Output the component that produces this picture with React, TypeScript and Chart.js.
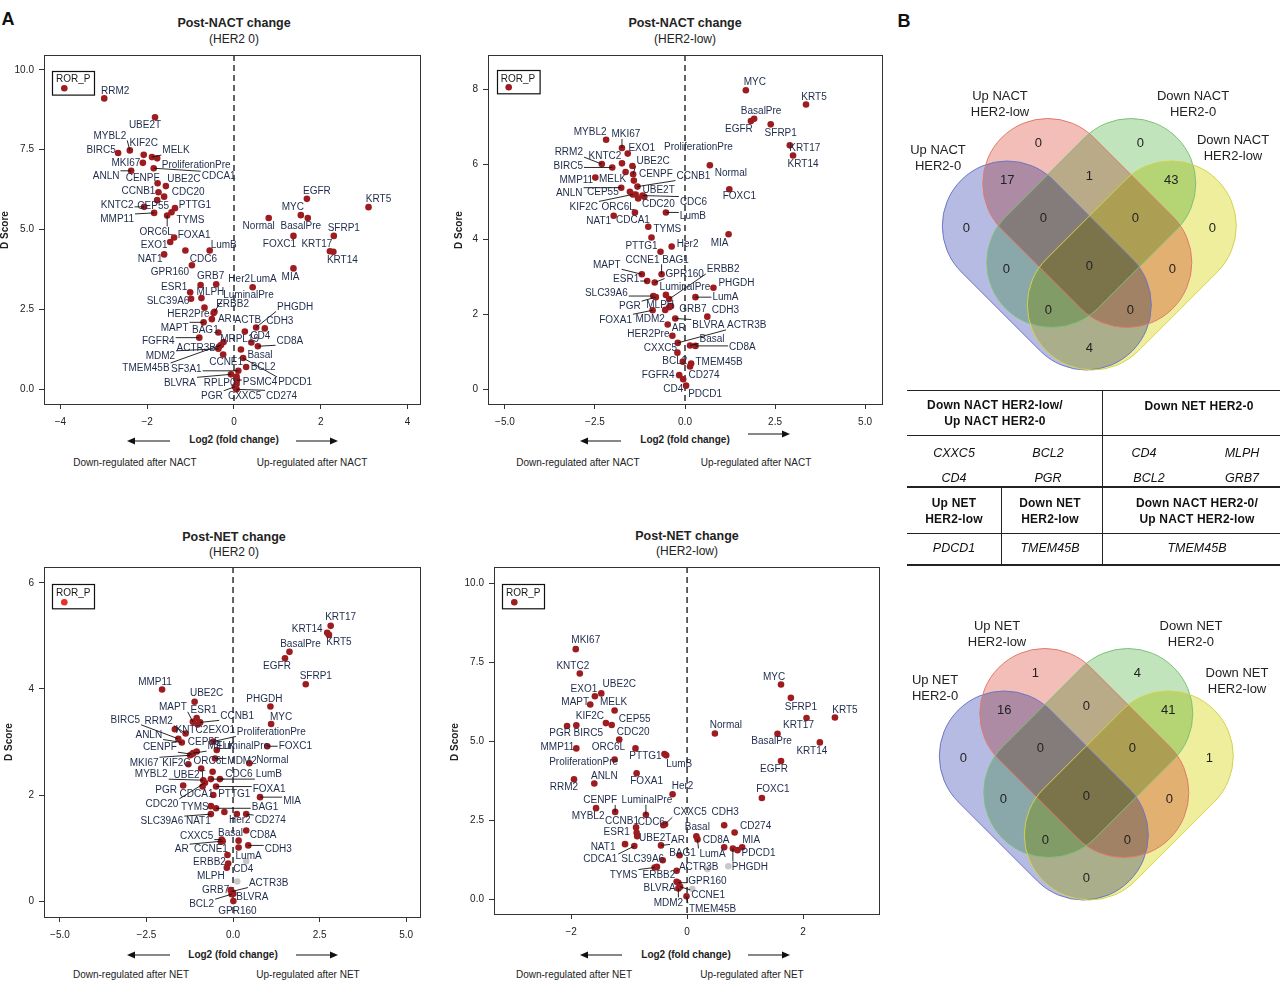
import React, { useEffect, useRef } from "react";
import { Chart, registerables } from "chart.js";
Chart.register(...registerables);

const FONT = '"Liberation Sans", Arial, Helvetica, sans-serif';
const RED = "#9d1c20";
const LABEL = "#1e2b4a";

// ---------------- Post-NACT change, HER2 0 ----------------
const nactH0Genes = [
  "RRM2","UBE2T","MYBL2","BIRC5","KIF2C","MELK","ProliferationPre","MKI67","CDCA1","ANLN",
  "CENPF","UBE2C","CCNB1","CDC20","CEP55","KNTC2","PTTG1","TYMS","MMP11","ORC6L",
  "EGFR","KRT5","MYC","BasalPre","Normal","SFRP1","FOXA1","EXO1","NAT1","CDC6",
  "LumB","GPR160","FOXC1","KRT17","KRT14","MIA","GRB7","Her2","LumA","ESR1",
  "MLPH","SLC39A6","HER2Pre","LuminalPre","ERBB2","AR","MAPT","BAG1","FGFR4","MRPL19",
  "ACTR3B","MDM2","TMEM45B","CCNE1","ACTB","PHGDH","CDH3","CD4","CD8A","Basal",
  "PDCD1","BCL2","SF3A1","BLVRA","RPLP0","PSMC4","CXXC5","PGR","CD274",
];
const nactH0Fold = [
  -2.99,-1.82,-2.40,-2.67,-2.08,-1.89,-1.77,-2.10,-1.85,-2.37,
  -1.76,-1.57,-1.74,-1.61,-1.77,-2.07,-1.36,-1.44,-1.84,-1.54,
  1.68,3.10,1.54,1.70,0.80,2.30,-1.38,-1.47,-1.61,-1.12,
  -0.56,-0.97,1.37,2.21,2.29,1.37,-0.77,-0.41,0.43,-1.01,
  -0.75,-0.99,-0.68,-0.45,-0.47,-0.51,-0.70,-0.36,-0.80,-0.24,
  -0.34,-0.36,-0.30,-0.25,0.25,0.51,0.71,0.40,0.55,0.16,
  0.21,0.28,0.10,-0.07,0.06,0.07,0.06,0.02,0.06,
];
const nactH0DScore = [
  9.11,8.52,7.48,7.40,7.34,7.27,7.23,7.09,6.92,6.84,
  6.45,6.36,6.17,6.03,5.92,5.71,5.67,5.54,5.52,5.44,
  5.96,5.70,5.45,5.36,5.36,4.80,4.75,4.61,4.22,4.34,
  4.34,3.88,4.80,4.32,4.30,3.78,3.26,3.28,3.19,3.03,
  2.85,2.83,2.55,2.42,2.38,2.19,2.09,1.77,1.61,1.47,
  1.33,1.26,1.38,1.08,1.80,1.93,1.90,1.46,1.34,1.24,
  0.97,0.69,0.57,0.46,0.39,0.28,0.16,0.07,-0.01,
];

// ---------------- Post-NACT change, HER2-low ----------------
const nactLowGenes = [
  "MYC","KRT5","BasalPre","EGFR","SFRP1","KRT17","KRT14","Normal","FOXC1","MYBL2",
  "MKI67","EXO1","RRM2","KNTC2","BIRC5","ProliferationPre","MMP11","MELK","UBE2C","CENPF",
  "CCNB1","ANLN","CEP55","UBE2T","KIF2C","ORC6L","CDC20","CDC6","LumB","NAT1",
  "CDCA1","TYMS","MIA","PTTG1","Her2","CCNE1","BAG1","MAPT","ESR1","GPR160",
  "ERBB2","LuminalPre","PHGDH","LumA","SLC39A6","PGR","MLPH","GRB7","FOXA1","MDM2",
  "CDH3","BLVRA","AR","HER2Pre","ACTR3B","Basal","CD8A","CXXC5","BCL2","TMEM45B",
  "CD274","FGFR4","CD4","PDCD1",
];
const nactLowFold = [
  1.69,3.36,1.92,1.83,2.38,2.91,3.00,0.69,1.23,-2.19,
  -1.75,-1.59,-2.31,-1.75,-2.02,-1.46,-2.49,-1.65,-1.44,-1.42,
  -1.32,-1.77,-1.53,-1.37,-1.45,-1.30,-1.13,-1.18,-0.53,-1.98,
  -1.39,-1.02,1.21,-0.93,-0.37,-0.68,-0.65,-1.20,-1.05,-0.84,
  -0.44,-0.53,0.79,0.29,-0.88,-0.81,-0.44,-0.39,-0.90,-0.55,
  0.62,-0.27,-0.48,-0.35,-0.20,0.14,0.29,-0.21,-0.06,0.17,
  0.14,-0.16,-0.05,0.03,
];
const nactLowDScore = [
  7.97,7.59,7.21,7.15,7.06,6.50,6.23,5.97,5.33,6.65,
  6.43,6.28,6.00,6.02,5.91,5.95,5.64,5.79,5.73,5.56,
  5.40,5.37,5.26,5.19,5.19,5.08,5.13,5.16,4.71,4.62,
  4.71,4.33,4.13,4.04,3.80,3.66,3.06,3.06,2.88,2.84,
  2.40,2.51,2.70,2.45,2.48,2.45,2.18,2.21,2.10,2.11,
  1.93,1.88,1.72,1.42,1.23,1.16,1.15,0.97,0.73,0.68,
  0.60,0.37,0.26,0.09,
];

// ---------------- Post-NET change, HER2 0 ----------------
const netH0Genes = [
  "KRT17","KRT14","KRT5","BasalPre","EGFR","SFRP1","MMP11","UBE2C","PHGDH","MYC",
  "MAPT","ESR1","CCNB1","EXO1","RRM2","KNTC2","BIRC5","ANLN","ProliferationPre","FOXC1",
  "LuminalPre","MELK","CEP55","CENPF","MKI67","KIF2C","ORC6L","MDM2","Normal","UBE2T",
  "MYBL2","CDC6","LumB","PGR","CDC20","FOXA1","CDCA1","PTTG1","MIA","TYMS",
  "BAG1","SLC39A6","NAT1","Her2","CD274","CD8A","Basal","CXXC5","CCNE1","AR",
  "CDH3","LumA","ERBB2","CD4","MLPH","ACTR3B","GRB7","BLVRA","BCL2","GPR160",
];
const netH0Fold = [
  2.82,2.72,2.77,1.63,1.50,2.10,-2.05,-1.11,1.08,1.10,
  -1.16,-1.05,-0.95,-1.02,-1.37,-1.68,-1.58,-1.48,-0.57,0.99,
  -0.47,-1.15,-1.05,-1.19,-1.24,-1.29,-0.92,-0.52,0.47,-0.59,
  -0.86,-0.38,-0.64,-1.44,-0.81,-0.49,-0.88,-0.57,0.78,-0.64,
  -0.49,-0.64,-0.25,0.11,0.38,0.38,0.16,-0.33,-0.35,-0.30,
  0.44,0.16,-0.16,-0.14,-0.18,-0.04,-0.07,0.01,-0.04,0.01,
];
const netH0DScore = [
  5.19,5.06,5.02,4.70,4.58,4.09,3.99,3.76,3.67,3.34,
  3.38,3.45,3.37,3.33,3.16,3.24,3.06,2.99,3.01,2.92,
  2.85,2.79,2.82,2.77,2.75,2.58,2.50,2.69,2.60,2.44,
  2.28,2.30,2.30,2.18,2.23,2.16,2.16,2.00,1.96,1.79,
  1.75,1.64,1.68,1.64,1.64,1.33,1.14,1.16,1.12,1.13,
  1.05,1.01,0.87,0.71,0.63,0.18,0.21,0.14,0.13,0.00,
];
const netH0GreyFold = [0.38, 0.12];
const netH0GreyDScore = [0.75, 0.37];

// ---------------- Post-NET change, HER2-low ----------------
const netLowGenes = [
  "MKI67","KNTC2","EXO1","UBE2C","MAPT","MELK","KIF2C","CEP55","PGR","BIRC5",
  "CDC20","MYC","SFRP1","KRT5","KRT17","Normal","BasalPre","KRT14","MMP11","ORC6L",
  "PTTG1","LumB","ProliferationPre","RRM2","ANLN","FOXA1","Her2","EGFR","FOXC1","MYBL2",
  "CENPF","LuminalPre","CCNB1","CDC6","CXXC5","ESR1","UBE2T","AR","NAT1","CDCA1",
  "SLC39A6","BAG1","Basal","LumA","CD8A","CDH3","CD274","MIA","PDCD1","PHGDH",
  "TYMS","ERBB2","ACTR3B","GPR160","BLVRA","CCNE1","MDM2","TMEM45B",
];
const netLowFold = [
  -1.92,-1.85,-1.59,-1.48,-1.67,-1.25,-1.40,-1.30,-2.07,-1.91,
  -1.17,1.62,1.79,2.55,2.06,0.48,1.56,2.29,-1.91,-0.89,
  -0.39,-0.36,-1.25,-1.95,-1.60,-0.87,-0.25,1.62,1.29,-1.57,
  -1.24,-0.71,-0.88,-0.41,-0.38,-0.87,-0.86,-0.45,-1.07,-0.91,
  -0.42,-0.13,0.16,0.18,0.64,0.64,0.82,0.95,0.87,0.79,
  -0.56,-0.52,-0.18,-0.15,-0.18,-0.12,-0.15,-0.01,
];
const netLowDScore = [
  7.91,7.14,6.42,6.51,6.16,5.97,5.57,5.51,5.48,5.50,
  5.05,6.79,6.37,5.75,5.73,5.24,5.23,4.96,4.77,4.77,
  4.59,4.55,4.42,3.79,3.66,3.98,3.32,4.37,3.20,2.88,
  2.76,2.67,2.27,2.34,2.37,2.10,1.99,1.70,1.74,1.68,
  1.23,1.39,1.99,1.89,1.64,2.34,2.11,1.64,1.55,1.60,
  1.00,1.02,0.90,0.52,0.55,0.39,0.34,0.09,
];
const netLowGreyFold = [0.71, 0.35, 0.09];
const netLowGreyDScore = [1.04, 0.95, 0.32];

// ---------------- Venn counts ----------------
const vennRegions = ["B","R","G","Y","BR","RG","GY","BRG","RGY","BRGY","BG","RY","BGY","BRY","BY"];
const nactVennCounts = [0,0,0,0,17,1,43,0,0,0,0,0,0,0,4];
const netVennCounts = [0,1,4,1,16,0,41,0,0,0,0,0,0,0,0];

// ---------------- label layout (pixel offsets of labels from points; 1 = leader line) ----------------
const nactH0Labels: Record<string, number[]> = {
  RRM2:[11,-8], UBE2T:[-10,8], MYBL2:[-20,-15,1], BIRC5:[-17,-3], KIF2C:[0,-12.5], MELK:[24,-7,1],
  ProliferationPre:[39,6], MKI67:[-17,0], CDCA1:[65,8,1], ANLN:[-25,5,1], CENPF:[-15,-5], UBE2C:[18,-7],
  CCNB1:[-20,-1], CDC20:[24,-5], CEP55:[-4,5.5], KNTC2:[-27,-2,1], PTTG1:[20,-3], TYMS:[19,7],
  MMP11:[-37,6,1], ORC6L:[-11,16,1], EGFR:[10,-8], KRT5:[10,-8], MYC:[-8,-8], BasalPre:[-7,8],
  Normal:[-10,8], SFRP1:[10,-8], FOXA1:[20,-3], EXO1:[-16,3], NAT1:[-14,4], CDC6:[18,8], LumB:[14,-6],
  GPR160:[-22,7], FOXC1:[-14,8], KRT17:[-13,-7], KRT14:[9,8], MIA:[-3,8], GRB7:[10,-9], Her2:[23,-6],
  LumA:[11,-8], ESR1:[-16,-6], MLPH:[9,-6], SLC39A6:[-23,2], HER2Pre:[-16,6], LuminalPre:[34,-17,1],
  ERBB2:[19,-9], AR:[13,0], MAPT:[-29,5,1], BAG1:[-13,-3], FGFR4:[-41,3,1], MRPL19:[16,-3],
  ACTR3B:[-23,1,1], MDM2:[-58,7,1], TMEM45B:[-75,23,1], CCNE1:[3,7], ACTB:[3,-12], PHGDH:[39,-21,1],
  CDH3:[15,-8], CD4:[9,-7], CD8A:[32,-6,1], Basal:[19,5], PDCD1:[52,24,1], BCL2:[17,0],
  SF3A1:[-52,-2,1], BLVRA:[-51,8,1], RPLP0:[-17,6], PSMC4:[23,2,1], CXXC5:[8,12], PGR:[-23,9,1],
  CD274:[45,6,1],
};
const nactLowLabels: Record<string, number[]> = {
  MYC:[9,-8], KRT5:[8,-8], BasalPre:[7,-8], EGFR:[-12,8], SFRP1:[10,8], KRT17:[15,2], KRT14:[10,8],
  Normal:[21,8], FOXC1:[10,7], MYBL2:[-16,-8], MKI67:[4,-14,1], EXO1:[14,-6], RRM2:[-33,-12,1],
  KNTC2:[-17,-8], BIRC5:[-44,-2,1], ProliferationPre:[66,-19], MMP11:[-19,2], MELK:[-13,7],
  UBE2C:[20,-13,1], CENPF:[22,-7], CCNB1:[56,-11,1], ANLN:[-52,5,1], CEP55:[-27,0], UBE2T:[23,-5],
  KIF2C:[-49,12,1], ORC6L:[-20,8], CDC20:[14,7], CDC6:[51,6,1], LumB:[27,3,1], NAT1:[-15,5],
  CDCA1:[-2,7], TYMS:[19,2], MIA:[-9,9], PTTG1:[-10,8], Her2:[16,-3], CCNE1:[-18,8], BAG1:[14,-15,1],
  MAPT:[-35,-10,1], ESR1:[-21,-2,1], GPR160:[30,-9,1], ERBB2:[54,-30,1], LuminalPre:[19,-8],
  PHGDH:[23,-5], LumA:[30,0,1], SLC39A6:[-47,-3,1], PGR:[-26,9,1], MLPH:[-9,-3], GRB7:[22,3],
  FOXA1:[-37,9,1], MDM2:[-15,9], CDH3:[18,-7], BLVRA:[33,6,1], AR:[11,3], HER2Pre:[-24,-2],
  ACTR3B:[69,-18,1], Basal:[22,-7,1], CD8A:[47,1,1], CXXC5:[-17,-5], BCL2:[-8,-1], TMEM45B:[28,-2],
  CD274:[14,8], FGFR4:[-21,0], CD4:[-10,9], PDCD1:[19,8],
};
const netH0Labels: Record<string, number[]> = {
  KRT17:[10,-9], KRT14:[-20,-4], KRT5:[10,7], BasalPre:[11,-8], EGFR:[-8,8], SFRP1:[10,-8],
  MMP11:[-7,-8], UBE2C:[12,-9], PHGDH:[-6,-8], MYC:[10,-7], MAPT:[-20,-15,1], ESR1:[7,-8],
  CCNB1:[37,-7,1], EXO1:[24,5], RRM2:[-27,-13,1], KNTC2:[17,0], BIRC5:[-53,-19,1], ANLN:[-33,-8,1],
  ProliferationPre:[58,-10,1], FOXC1:[28,0,1], LuminalPre:[27,-4,1], MELK:[28,-7,1], CEP55:[7,-10],
  CENPF:[-32,-7,1], MKI67:[-46,7,1], KIF2C:[-12,-2], ORC6L:[9,-8], MDM2:[27,2,1], Normal:[23,-3],
  UBE2T:[-23,3], MYBL2:[-52,-6,1], CDC6:[19,-5,1], LumB:[58,-5,1], PGR:[-17,4], CDC20:[-43,21,1],
  FOXA1:[53,2,1], CDCA1:[-6,7], PTTG1:[21,-1], MIA:[32,4,1], TYMS:[-16,1], BAG1:[49,-2,1],
  SLC39A6:[-49,7,1], NAT1:[-26,9], Her2:[3,6], CD274:[24,6,1], CD8A:[17,4], Basal:[-8,-8],
  CXXC5:[-25,-4,1], CCNE1:[-10,7], AR:[-41,8,1], CDH3:[30,3,1], LumA:[10,8], ERBB2:[-18,7],
  CD4:[15,5], MLPH:[-16,8], ACTR3B:[37,-9,1], GRB7:[-15,0], BLVRA:[19,3], BCL2:[-30,10,1], GPR160:[4,10],
};
const netLowLabels: Record<string, number[]> = {
  MKI67:[10,-9], KNTC2:[-7,-8], EXO1:[-11,-8], UBE2C:[18,-10], MAPT:[-15,-3], MELK:[-1,-9],
  KIF2C:[-16,-7], CEP55:[23,-6], PGR:[-7,7], BIRC5:[12,7], CDC20:[14,-8], MYC:[-7,-8], SFRP1:[10,9],
  KRT5:[10,-8], KRT17:[-8,7], Normal:[11,-9], BasalPre:[-6,7], KRT14:[-8,8], MMP11:[-19,-2],
  ORC6L:[-27,-2], PTTG1:[-19,2], LumB:[13,8], ProliferationPre:[-31,2], RRM2:[-10,7], ANLN:[10,-8],
  FOXA1:[10,7], Her2:[10,-8], EGFR:[-7,8], FOXC1:[11,-9], MYBL2:[-8,8], CENPF:[-15,-12,1],
  LuminalPre:[1,-15,1], CCNB1:[-14,-7], CDC6:[-12,-3], CXXC5:[25,-12,1], ESR1:[-20,-1], UBE2T:[18,1],
  AR:[17,-6,1], NAT1:[-22,3], CDCA1:[-34,13,1], SLC39A6:[-20,-2], BAG1:[3,-2], Basal:[1,-10],
  LumA:[15,14,1], CD8A:[-8,-8], CDH3:[1,-13], CD274:[21,-7], MIA:[9,-8], PDCD1:[21,3], PHGDH:[17,18,1],
  TYMS:[-31,7,1], ERBB2:[2,8], ACTR3B:[22,-4,1], GPR160:[29,-2,1], BLVRA:[-17,6], CCNE1:[28,8,1],
  MDM2:[-10,14,1], TMEM45B:[26,12,1],
};

const minus = (s: string) => s.replace("-", "\u2212");
const fmtInt = (v: number) => minus(String(v));
const fmt1 = (v: number) => minus(v.toFixed(1));

type PanelCfg = {
  id: string;
  genes: string[]; xs: number[]; ys: number[];
  gx?: number[]; gy?: number[];
  labels: Record<string, number[]>;
  frame: number[];
  xr: number[]; yr: number[];
  xTicks: number[]; yTicks: number[];
  xFmt: (v: number) => string; yFmt: (v: number) => string;
  legend: number[]; legendDot: string;
};

const panels: PanelCfg[] = [
  { id: "p1", genes: nactH0Genes, xs: nactH0Fold, ys: nactH0DScore, labels: nactH0Labels,
    frame: [44, 55, 420, 404], xr: [-4.378, 4.286], yr: [-0.47, 10.47],
    xTicks: [-4, -2, 0, 2, 4], yTicks: [0, 2.5, 5, 7.5, 10], xFmt: fmtInt, yFmt: fmt1,
    legend: [52.3, 70.7, 42, 23.6], legendDot: RED },
  { id: "p2", genes: nactLowGenes, xs: nactLowFold, ys: nactLowDScore, labels: nactLowLabels,
    frame: [488, 55, 882, 404], xr: [-5.47, 5.47], yr: [-0.4, 8.91],
    xTicks: [-5, -2.5, 0, 2.5, 5], yTicks: [0, 2, 4, 6, 8], xFmt: fmt1, yFmt: fmtInt,
    legend: [496.7, 70, 42.6, 23.3], legendDot: RED },
  { id: "p3", genes: netH0Genes, xs: netH0Fold, ys: netH0DScore, gx: netH0GreyFold, gy: netH0GreyDScore,
    labels: netH0Labels, frame: [44, 567, 420, 917], xr: [-5.46, 5.40], yr: [-0.30, 6.30],
    xTicks: [-5, -2.5, 0, 2.5, 5], yTicks: [0, 2, 4, 6], xFmt: fmt1, yFmt: fmtInt,
    legend: [52.3, 584, 42, 24.3], legendDot: "#e4302a" },
  { id: "p4", genes: netLowGenes, xs: netLowFold, ys: netLowDScore, gx: netLowGreyFold, gy: netLowGreyDScore,
    labels: netLowLabels, frame: [494, 567, 879, 914], xr: [-3.33, 3.31], yr: [-0.47, 10.51],
    xTicks: [-2, 0, 2], yTicks: [0, 2.5, 5, 7.5, 10], xFmt: fmtInt, yFmt: fmt1,
    legend: [502.3, 584, 42, 24.3], legendDot: RED },
];

const X_AXIS_H = 26;

function axis(min: number, max: number, ticks: number[], fmt: (v: number) => string, isX: boolean) {
  return {
    type: "linear", min, max,
    afterBuildTicks: (s: any) => { s.ticks = ticks.map((v) => ({ value: v })); },
    afterFit: (s: any) => {
      if (isX) s.height = X_AXIS_H; else s.width = 44;
      s.paddingTop = 0; s.paddingBottom = 0; s.paddingLeft = 0; s.paddingRight = 0;
    },
    grid: { display: true, drawOnChartArea: false, drawTicks: true, tickLength: 5, color: "#333", lineWidth: 1 },
    border: { display: false },
    ticks: { callback: (v: any) => fmt(Number(v)), font: { size: 10, family: FONT }, color: "#222",
      padding: isX ? 7 : 5, autoSkip: false, maxRotation: 0, minRotation: 0 },
  };
}

function ScatterPanel({ p }: { p: PanelCfg }) {
  const ref = useRef<HTMLCanvasElement>(null);
  const [fl, ft, fr, fb] = p.frame;
  const cl = fl - 44, ct = ft - 6;
  const w = fr - fl + 54, h = fb - ft + 6 + X_AXIS_H;
  useEffect(() => {
    const canvas = ref.current!;
    const pts = p.xs.map((x, i) => ({ x, y: p.ys[i] }));
    const grey = (p.gx || []).map((x, i) => ({ x, y: (p.gy || [])[i] }));
    const deco = {
      id: "deco" + p.id,
      beforeDatasetsDraw(chart: any) {
        const { ctx, chartArea: a, scales } = chart;
        const x0 = scales.x.getPixelForValue(0);
        ctx.save();
        ctx.strokeStyle = "#222"; ctx.lineWidth = 1.4; ctx.setLineDash([6, 4]);
        ctx.beginPath(); ctx.moveTo(x0, a.top); ctx.lineTo(x0, a.bottom); ctx.stroke();
        ctx.restore();
      },
      afterDatasetsDraw(chart: any) {
        const { ctx, chartArea: a, scales } = chart;
        ctx.save();
        ctx.font = `10px ${FONT}`;
        ctx.textAlign = "center"; ctx.textBaseline = "middle";
        const items = p.genes.map((g, i) => {
          const px = scales.x.getPixelForValue(p.xs[i]);
          const py = scales.y.getPixelForValue(p.ys[i]);
          const off = p.labels[g] || [0, -9];
          const lx = px + off[0], ly = py + off[1];
          const tw = ctx.measureText(g).width;
          return { g, px, py, lx, ly, tw, leader: off[2] === 1 };
        });
        ctx.strokeStyle = "#111"; ctx.lineWidth = 0.9;
        items.forEach((it) => {
          if (!it.leader) return;
          const x0 = it.lx - it.tw / 2 - 1, x1 = it.lx + it.tw / 2 + 1;
          const y0 = it.ly - 5, y1 = it.ly + 5;
          const cx = Math.max(x0, Math.min(x1, it.px));
          const cy = Math.max(y0, Math.min(y1, it.py));
          ctx.beginPath(); ctx.moveTo(it.px, it.py); ctx.lineTo(cx, cy); ctx.stroke();
        });
        ctx.fillStyle = LABEL;
        items.forEach((it) => ctx.fillText(it.g, it.lx, it.ly + 0.5));
        const [bx, by, bw, bh] = p.legend;
        const X = bx - cl, Y = by - ct;
        ctx.strokeStyle = "#111"; ctx.lineWidth = 1.2;
        ctx.strokeRect(Math.round(X) + 0.5, Math.round(Y) + 0.5, bw, bh);
        ctx.fillStyle = "#1a1a1a";
        ctx.fillText("ROR_P", X + bw / 2, Y + 9);
        ctx.fillStyle = p.legendDot;
        ctx.beginPath(); ctx.arc(X + 12, Y + bh - 6, 3.3, 0, Math.PI * 2); ctx.fill();
        ctx.strokeStyle = "#333"; ctx.lineWidth = 1;
        ctx.strokeRect(Math.round(a.left) + 0.5, Math.round(a.top) + 0.5,
          Math.round(a.right - a.left), Math.round(a.bottom - a.top));
        ctx.restore();
      },
    };
    const chart = new Chart(canvas, {
      type: "scatter",
      data: {
        datasets: [
          { data: grey, backgroundColor: "#c8c8c8", pointRadius: 3.3, borderWidth: 0 },
          { data: pts, backgroundColor: RED, pointRadius: 3.3, borderWidth: 0 },
        ],
      },
      options: {
        responsive: false, animation: false,
        layout: { padding: { left: 0, top: 6, right: 10, bottom: 0 } },
        plugins: { legend: { display: false }, tooltip: { enabled: false }, title: { display: false } },
        scales: {
          x: axis(p.xr[0], p.xr[1], p.xTicks, p.xFmt, true) as any,
          y: axis(p.yr[0], p.yr[1], p.yTicks, p.yFmt, false) as any,
        },
      },
      plugins: [deco],
    } as any);
    return () => chart.destroy();
  }, []);
  return <canvas ref={ref} width={w} height={h}
    style={{ position: "absolute", left: cl, top: ct, width: w, height: h }} />;
}

// Venn geometry (local px units around the central region)
const VENN_R = 65;
const vennShapes = [
  { c1: [-82, -40], c2: [-3, 39], fill: "rgb(182,187,228)", stroke: "#6c76c6" },
  { c1: [-41.5, -82.5], c2: [37.5, -3.5], fill: "rgb(243,190,184)", stroke: "#e07a6a" },
  { c1: [41.5, -82.5], c2: [-37.5, -3.5], fill: "rgb(194,228,189)", stroke: "#7fc078" },
  { c1: [82, -40], c2: [3, 39], fill: "rgb(238,238,156)", stroke: "#d2d24e" },
];
const vennRegionPos = [
  [-123, -38], [-51, -123], [51, -123], [123, -38], [-82, -86], [0, -90], [82, -86],
  [-46, -48], [46, -48], [0, 0], [-83, 3], [83, 3], [-41, 44], [41, 44], [0, 82],
];

function VennPanel({ left, top, cx, cy, counts, id }: any) {
  const ref = useRef<HTMLCanvasElement>(null);
  const W = 380, H = 300;
  useEffect(() => {
    const canvas = ref.current!;
    const plug = {
      id: "venn" + id,
      beforeDatasetsDraw(chart: any) {
        const { ctx, scales } = chart;
        const sx = (v: number) => scales.x.getPixelForValue(v);
        const sy = (v: number) => scales.y.getPixelForValue(v);
        const path = (s: any) => {
          const p1 = { x: sx(s.c1[0]), y: sy(s.c1[1]) };
          const p2 = { x: sx(s.c2[0]), y: sy(s.c2[1]) };
          const r = Math.abs(sx(VENN_R) - sx(0));
          const th = Math.atan2(p2.y - p1.y, p2.x - p1.x);
          ctx.beginPath();
          ctx.arc(p2.x, p2.y, r, th - Math.PI / 2, th + Math.PI / 2);
          ctx.arc(p1.x, p1.y, r, th + Math.PI / 2, th + (3 * Math.PI) / 2);
          ctx.closePath();
        };
        ctx.save();
        ctx.globalCompositeOperation = "multiply";
        vennShapes.forEach((s) => { path(s); ctx.fillStyle = s.fill; ctx.fill(); });
        ctx.globalCompositeOperation = "source-over";
        ctx.lineWidth = 1;
        vennShapes.forEach((s) => { path(s); ctx.strokeStyle = s.stroke; ctx.stroke(); });
        ctx.restore();
      },
      afterDatasetsDraw(chart: any) {
        const { ctx, scales } = chart;
        ctx.save();
        ctx.font = `13px ${FONT}`;
        ctx.fillStyle = "#222"; ctx.textAlign = "center"; ctx.textBaseline = "middle";
        chart.data.datasets[0].data.forEach((d: any, i: number) => {
          ctx.fillText(String(counts[i]), scales.x.getPixelForValue(d.x), scales.y.getPixelForValue(d.y));
        });
        ctx.restore();
      },
    };
    const chart = new Chart(canvas, {
      type: "scatter",
      data: { datasets: [{ data: vennRegionPos.map(([x, y], i) => ({ x, y, region: vennRegions[i] })), pointRadius: 0 }] },
      options: {
        responsive: false, animation: false,
        layout: { padding: 0 },
        plugins: { legend: { display: false }, tooltip: { enabled: false } },
        scales: {
          x: { type: "linear", display: false, min: left - cx, max: left + W - cx },
          y: { type: "linear", display: false, reverse: true, min: top - cy, max: top + H - cy },
        },
      },
      plugins: [plug],
    } as any);
    return () => chart.destroy();
  }, []);
  return <canvas ref={ref} width={W} height={H}
    style={{ position: "absolute", left, top, width: W, height: H }} />;
}

function T({ x, y, children, s }: any) {
  return (
    <div style={{ position: "absolute", left: x, top: y, transform: "translate(-50%,-50%)",
      whiteSpace: "nowrap", textAlign: "center", lineHeight: "16px", ...s }}>{children}</div>
  );
}

function Arrow({ x1, x2, y }: any) {
  const dir = Math.sign(x2 - x1);
  const hx = x2, bx = x2 - dir * 8;
  return (
    <g>
      <line x1={x1} y1={y} x2={bx} y2={y} stroke="#111" strokeWidth={1.2} />
      <polygon points={`${hx},${y} ${bx},${y - 3.5} ${bx},${y + 3.5}`} fill="#111" />
    </g>
  );
}

const titleS = { fontWeight: "bold", fontSize: 12.5, color: "#222" };
const subS = { fontSize: 12, color: "#222" };
const dS = { fontWeight: "bold", fontSize: 10, color: "#222", transform: "translate(-50%,-50%) rotate(-90deg)" };
const logS = { fontWeight: "bold", fontSize: 10, color: "#222" };
const smS = { fontSize: 10, color: "#222" };
const vS = { fontSize: 13, color: "#222" };
const thS = { fontWeight: "bold", fontSize: 12, color: "#111", letterSpacing: 0.2 };
const tiS = { fontStyle: "italic", fontSize: 12.5, color: "#111" };

function HLine({ y, w = 1 }: any) {
  return <div style={{ position: "absolute", left: 907, top: y, width: 373, height: w, background: "#222" }} />;
}
function VLine({ x, y1, y2 }: any) {
  return <div style={{ position: "absolute", left: x, top: y1, width: 1, height: y2 - y1, background: "#222" }} />;
}

export default function App() {
  return (
    <div style={{ position: "absolute", left: 0, top: 0, width: 1280, height: 986, background: "#fff",
      overflow: "hidden", fontFamily: FONT, color: "#111" }}>
      {panels.map((p) => <ScatterPanel key={p.id} p={p} />)}
      <VennPanel id="v1" left={900} top={80} cx={1089.3} cy={266} counts={nactVennCounts} />
      <VennPanel id="v2" left={897} top={610} cx={1086.3} cy={796} counts={netVennCounts} />

      <T x={8} y={19} s={{ fontWeight: "bold", fontSize: 18 }}>A</T>
      <T x={904} y={21} s={{ fontWeight: "bold", fontSize: 18 }}>B</T>

      <T x={234} y={23} s={titleS}>Post-NACT change</T>
      <T x={234} y={39} s={subS}>(HER2 0)</T>
      <T x={685} y={23} s={titleS}>Post-NACT change</T>
      <T x={685} y={39} s={subS}>(HER2-low)</T>
      <T x={234} y={537} s={titleS}>Post-NET change</T>
      <T x={234} y={552} s={subS}>(HER2 0)</T>
      <T x={687} y={536} s={titleS}>Post-NET change</T>
      <T x={687} y={551} s={subS}>(HER2-low)</T>

      <T x={5} y={230} s={dS}>D Score</T>
      <T x={459} y={230} s={dS}>D Score</T>
      <T x={9} y={742} s={dS}>D Score</T>
      <T x={455} y={742} s={dS}>D Score</T>

      <T x={234} y={440} s={logS}>Log2 (fold change)</T>
      <T x={685} y={440} s={logS}>Log2 (fold change)</T>
      <T x={233} y={955} s={logS}>Log2 (fold change)</T>
      <T x={686} y={955} s={logS}>Log2 (fold change)</T>

      <T x={135} y={463} s={smS}>Down-regulated after NACT</T>
      <T x={312} y={463} s={smS}>Up-regulated after NACT</T>
      <T x={578} y={463} s={smS}>Down-regulated after NACT</T>
      <T x={756} y={463} s={smS}>Up-regulated after NACT</T>
      <T x={131} y={975} s={smS}>Down-regulated after NET</T>
      <T x={308} y={975} s={smS}>Up-regulated after NET</T>
      <T x={574} y={975} s={smS}>Down-regulated after NET</T>
      <T x={752} y={975} s={smS}>Up-regulated after NET</T>

      <svg width={1280} height={986} style={{ position: "absolute", left: 0, top: 0, pointerEvents: "none" }}>
        <Arrow x1={170} x2={127} y={441} />
        <Arrow x1={296} x2={338} y={441} />
        <Arrow x1={621} x2={580} y={441} />
        <Arrow x1={748} x2={790} y={434} />
        <Arrow x1={170} x2={127} y={955} />
        <Arrow x1={296} x2={338} y={955} />
        <Arrow x1={622} x2={580} y={955} />
        <Arrow x1={748} x2={790} y={955} />
      </svg>

      <T x={938} y={157.5} s={vS}>Up NACT<br />HER2-0</T>
      <T x={1000} y={103.5} s={vS}>Up NACT<br />HER2-low</T>
      <T x={1193} y={103.5} s={vS}>Down NACT<br />HER2-0</T>
      <T x={1233} y={148} s={vS}>Down NACT<br />HER2-low</T>

      <T x={935} y={687.5} s={vS}>Up NET<br />HER2-0</T>
      <T x={997} y={633.5} s={vS}>Up NET<br />HER2-low</T>
      <T x={1191} y={633.5} s={vS}>Down NET<br />HER2-0</T>
      <T x={1237} y={681} s={vS}>Down NET<br />HER2-low</T>

      <HLine y={390} />
      <HLine y={435} />
      <HLine y={486} w={2} />
      <HLine y={533} />
      <HLine y={564} w={2} />
      <VLine x={1102} y1={390} y2={565} />
      <VLine x={1001} y1={487} y2={565} />

      <T x={995} y={413} s={thS}>Down NACT HER2-low/<br />Up NACT HER2-0</T>
      <T x={1199} y={406} s={thS}>Down NET HER2-0</T>
      <T x={954} y={453} s={tiS}>CXXC5</T>
      <T x={1048} y={453} s={tiS}>BCL2</T>
      <T x={954} y={478} s={tiS}>CD4</T>
      <T x={1048} y={478} s={tiS}>PGR</T>
      <T x={1144} y={453} s={tiS}>CD4</T>
      <T x={1242} y={453} s={tiS}>MLPH</T>
      <T x={1149} y={478} s={tiS}>BCL2</T>
      <T x={1242} y={478} s={tiS}>GRB7</T>
      <T x={954} y={511} s={thS}>Up NET<br />HER2-low</T>
      <T x={1050} y={511} s={thS}>Down NET<br />HER2-low</T>
      <T x={1197} y={511} s={thS}>Down NACT HER2-0/<br />Up NACT HER2-low</T>
      <T x={954} y={548} s={tiS}>PDCD1</T>
      <T x={1050} y={548} s={tiS}>TMEM45B</T>
      <T x={1197} y={548} s={tiS}>TMEM45B</T>
    </div>
  );
}
